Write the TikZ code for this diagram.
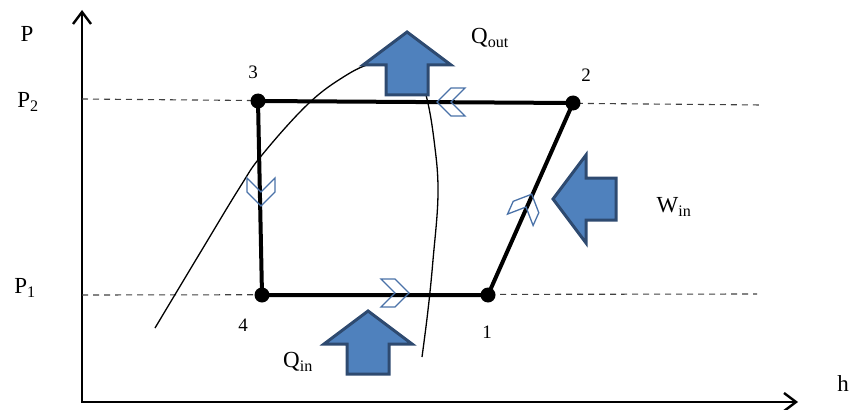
\documentclass[tikz,border=0pt]{standalone}
\usepackage{fontspec}
\setmainfont{Liberation Serif}
\usetikzlibrary{arrows.meta}
\definecolor{cycBlue}{HTML}{4F81BD}
\definecolor{cycNavy}{HTML}{2E4A70}
\definecolor{cycChev}{HTML}{4A72A8}
\definecolor{cycGray}{HTML}{404040}
\tikzset{
  every picture/.style={font=\fontsize{23}{27}\selectfont},
  axis line/.style={line width=2.4pt,
    {Straight Barb[length=12pt,width=18pt]}-{Straight Barb[length=12pt,width=18pt]}},
  level line/.style={draw=cycGray, line width=1.1pt, dash pattern=on 6pt off 5pt},
  dome line/.style={line width=1.3pt},
  cycle line/.style={line width=4pt, line join=miter},
  state dot/.style={circle, fill=black, inner sep=0pt, minimum size=15pt},
  state label/.style={font=\fontsize{19}{23}\selectfont},
  heat arrow/.pic={
    \draw[fill=cycBlue, draw=cycNavy, line width=3pt, line join=miter]
      (0,0) -- (44,33) -- (21,33) -- (21,63) -- (-21,63) -- (-21,33) -- (-44,33) -- cycle;},
  flow chevron/.pic={
    \draw[cycChev, line width=1.3pt]
      (-14,-14) -- (0,-14) -- (14,0) -- (0,14) -- (-14,14) -- (0,0) -- cycle;}
}
\begin{document}
\begin{tikzpicture}[x=1pt,y=-1pt]
  \useasboundingbox (0,0) rectangle (850,409);
  % axes
  \coordinate (origin) at (82,402);
  \coordinate (ytip) at (82,10);
  \coordinate (xtip) at (798,402);
  \draw[axis line] (ytip) -- (origin) -- (xtip);
  % pressure levels
  \coordinate (hiL) at (82,99);
  \coordinate (hiR) at (762,105);
  \coordinate (loL) at (82,295);
  \coordinate (loR) at (757,294);
  \draw[level line] (hiL) -- (hiR);
  \draw[level line] (loL) -- (loR);
  % saturation dome
  \draw[dome line] plot[smooth, tension=0.65] coordinates {
    (155,328) (200,253) (240,187) (262,155) (308,104) (345,76) (373,63)
    (398,60) (416,72) (426,95) (434,140) (438,193) (433,260) (428,310) (422,357)};
  % cycle
  \node[state dot] (s1) at (488,295) {};
  \node[state dot] (s2) at (573,103) {};
  \node[state dot] (s3) at (258,101) {};
  \node[state dot] (s4) at (262,295) {};
  \draw[cycle line] (s1.center) -- (s2.center) -- (s3.center) -- (s4.center) -- cycle;
  \pic[rotate=180] at (451,102) {flow chevron};
  \pic at (395,293) {flow chevron};
  \pic[rotate=-90] at (261,192) {flow chevron};
  \pic[rotate=66] at (526,207) {flow chevron};
  % heat and work
  \pic at (407,32) {heat arrow};
  \pic at (368,311) {heat arrow};
  \pic[rotate=90] at (553,199) {heat arrow};
  % labels
  \node (lP) at (27,34) {P};
  \node (lP2) at (28,102) {P\textsubscript{2}};
  \node (lP1) at (25,288) {P\textsubscript{1}};
  \node (lh) at (843,384) {h};
  \node (lQout) at (490,38) {Q\textsubscript{out}};
  \node (lQin) at (298,362) {Q\textsubscript{in}};
  \node (lWin) at (674,207) {W\textsubscript{in}};
  \node[state label] (l1) at (487,332) {1};
  \node[state label] (l2) at (586,75) {2};
  \node[state label] (l3) at (253,72) {3};
  \node[state label] (l4) at (243,325) {4};
\end{tikzpicture}
\end{document}
